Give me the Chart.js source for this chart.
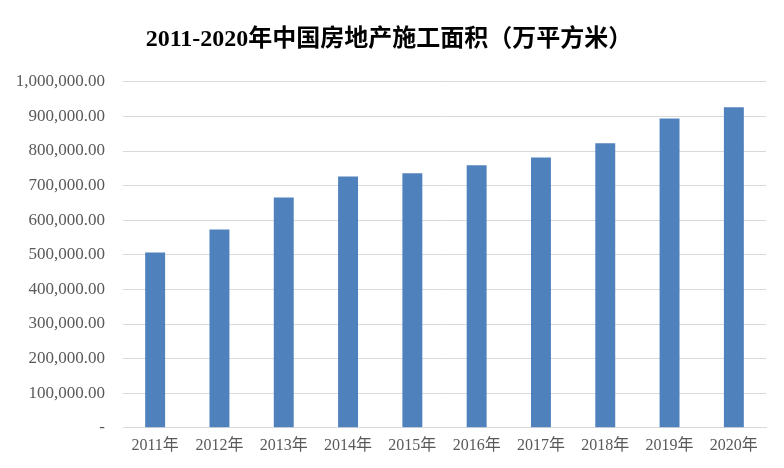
<!DOCTYPE html>
<html>
<head>
<meta charset="utf-8">
<script src="https://cdn.jsdelivr.net/npm/chart.js@4/dist/chart.umd.min.js"></script>
<style>
  html, body { margin: 0; padding: 0; background: #fff; }
  #wrap { width: 784px; height: 468px; position: relative; }
</style>
</head>
<body>
<div id="wrap"><canvas id="chart"></canvas></div>
<script>
// Chart data
const years = ['2011年', '2012年', '2013年', '2014年', '2015年', '2016年', '2017年', '2018年', '2019年', '2020年'];
const area = [506775, 573418, 665572, 726482, 735693, 758975, 781484, 822300, 893821, 926759];
const chartTitle = '2011-2020年中国房地产施工面积（万平方米）';

const ctx = document.getElementById('chart').getContext('2d');

new Chart(ctx, {
    type: 'bar',
    data: {
        labels: years,
        datasets: [{
            data: area,
            backgroundColor: '#4F81BD',
            categoryPercentage: 1.0,
            barPercentage: 0.31,
        }],
    },
    options: {
        responsive: true,
        maintainAspectRatio: false,
        animation: false,
        layout: { padding: { left: 12, right: 18, top: 8, bottom: 5 } },
        plugins: {
            legend: { display: false },
            tooltip: { enabled: false },
            title: {
                display: true,
                text: chartTitle,
                color: '#000',
                font: { family: '"Liberation Serif", "Noto Sans CJK SC", serif', size: 24, weight: 'bold' },
                padding: { top: 17, bottom: 28 },
            },
        },
        scales: {
            x: {
                grid: { display: false, drawTicks: false },
                border: { color: '#d9d9d9', width: 1 },
                ticks: {
                    color: '#595959',
                    font: { family: '"Liberation Serif", "Noto Sans CJK SC", serif', size: 16 },
                    padding: 8,
                    maxRotation: 0,
                },
            },
            y: {
                min: 0,
                max: 1000000,
                afterFit: (scale) => { scale.width = 111; },
                grid: { color: '#d9d9d9', drawTicks: false },
                border: { display: false },
                ticks: {
                    stepSize: 100000,
                    color: '#595959',
                    padding: 18,
                    font: { family: '"Liberation Serif", serif', size: 17 },
                    callback: (v) => v === 0 ? '-' : v.toLocaleString('en-US', { minimumFractionDigits: 2, maximumFractionDigits: 2 }),
                },
            },
        },
    },
});
</script>
</body>
</html>
